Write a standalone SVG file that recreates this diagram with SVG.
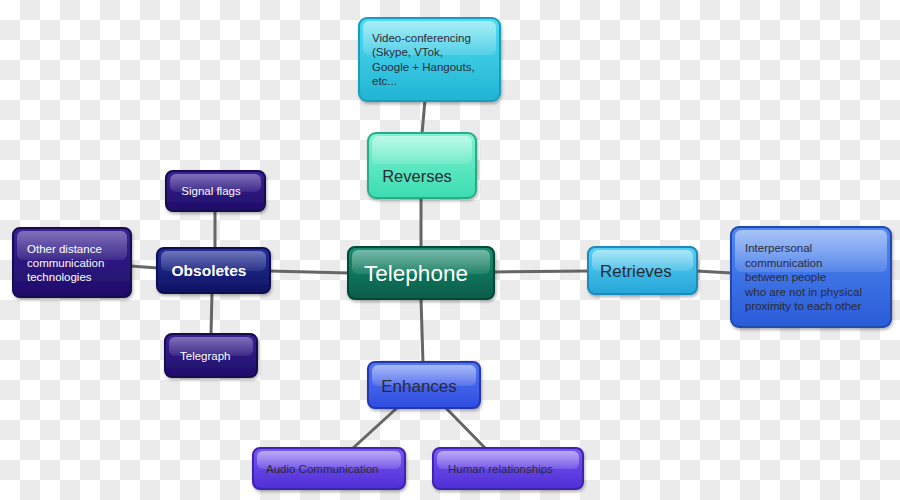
<svg xmlns="http://www.w3.org/2000/svg" width="900" height="500" viewBox="0 0 900 500">
<defs>
<pattern id="chk" width="40" height="40" patternUnits="userSpaceOnUse">
<rect width="40" height="40" fill="#ffffff"/>
<rect x="20" y="0" width="20" height="20" fill="#ebebeb"/>
<rect x="0" y="20" width="20" height="20" fill="#ebebeb"/>
</pattern>
<linearGradient id="gCyan" x1="0" y1="0" x2="0" y2="1"><stop offset="0" stop-color="#52dcf0"/><stop offset="1" stop-color="#20b4d4"/></linearGradient>
<linearGradient id="gMint" x1="0" y1="0" x2="0" y2="1"><stop offset="0" stop-color="#7ef4d2"/><stop offset="1" stop-color="#3cdcb0"/></linearGradient>
<linearGradient id="gGreen" x1="0" y1="0" x2="0" y2="1"><stop offset="0" stop-color="#168e70"/><stop offset="1" stop-color="#0a5c46"/></linearGradient>
<linearGradient id="gNavy" x1="0" y1="0" x2="0" y2="1"><stop offset="0" stop-color="#222e98"/><stop offset="1" stop-color="#0e1462"/></linearGradient>
<linearGradient id="gIndigo" x1="0" y1="0" x2="0" y2="1"><stop offset="0" stop-color="#3a2496"/><stop offset="1" stop-color="#1e0c68"/></linearGradient>
<linearGradient id="gSky" x1="0" y1="0" x2="0" y2="1"><stop offset="0" stop-color="#58d0f4"/><stop offset="1" stop-color="#26a6d8"/></linearGradient>
<linearGradient id="gBlue" x1="0" y1="0" x2="0" y2="1"><stop offset="0" stop-color="#5088f2"/><stop offset="1" stop-color="#2a5cd8"/></linearGradient>
<linearGradient id="gRoyal" x1="0" y1="0" x2="0" y2="1"><stop offset="0" stop-color="#5476f2"/><stop offset="1" stop-color="#2f4ee0"/></linearGradient>
<linearGradient id="gPurple" x1="0" y1="0" x2="0" y2="1"><stop offset="0" stop-color="#7a58f2"/><stop offset="1" stop-color="#4e2ed6"/></linearGradient>
<linearGradient id="gHi" x1="0" y1="0" x2="0" y2="1"><stop offset="0" stop-color="#ffffff" stop-opacity="0.5"/><stop offset="1" stop-color="#ffffff" stop-opacity="0.12"/></linearGradient>
<filter id="sh" x="-10%" y="-10%" width="125%" height="130%"><feDropShadow dx="1" dy="2" stdDeviation="1.5" flood-color="#000" flood-opacity="0.3"/></filter>
</defs>
<style>
.box{stroke-width:2;filter:url(#sh)}
.hi{fill:url(#gHi)}
.t{font-family:"Liberation Sans",Arial,sans-serif}
.dk{fill:#2a2a36}
.wt{fill:#ffffff}
.s11{font-size:11.5px}
.s16{font-size:16.5px}
.conn line{stroke:#666666;stroke-width:3;stroke-linecap:round}
</style>
<rect width="900" height="500" fill="url(#chk)"/>
<g id="connectors" class="conn">
<line x1="425" y1="100" x2="422" y2="134"/>
<line x1="421" y1="197" x2="421" y2="248"/>
<line x1="349" y1="273" x2="269" y2="271"/>
<line x1="493" y1="272" x2="589" y2="271"/>
<line x1="421" y1="298" x2="423" y2="363"/>
<line x1="215" y1="249" x2="215" y2="210"/>
<line x1="212" y1="292" x2="211" y2="335"/>
<line x1="158" y1="268" x2="130" y2="266"/>
<line x1="696" y1="271" x2="732" y2="273"/>
<line x1="398" y1="407" x2="352" y2="449"/>
<line x1="445" y1="407" x2="486" y2="449"/>
</g>
<g id="video">
<rect class="box" x="359" y="18" width="141" height="83" rx="8" fill="url(#gCyan)" stroke="#1a9cbc"/>
<rect class="hi" x="363" y="21" width="133" height="34" rx="6"/>
<text class="t dk s11" x="372" y="42">Video-conferencing</text>
<text class="t dk s11" x="372" y="56">(Skype, VTok,</text>
<text class="t dk s11" x="372" y="71">Google + Hangouts,</text>
<text class="t dk s11" x="372" y="85">etc...</text>
</g>
<g id="reverses">
<rect class="box" x="368" y="133" width="108" height="65" rx="8" fill="url(#gMint)" stroke="#2aaa88"/>
<rect class="hi" x="372" y="136" width="100" height="28" rx="6"/>
<text class="t dk s16" x="417" y="182" text-anchor="middle">Reverses</text>
</g>
<g id="telephone">
<rect class="box" x="348" y="247" width="146" height="52" rx="7" fill="url(#gGreen)" stroke="#064a38"/>
<rect class="hi" x="352" y="250" width="138" height="24" rx="6" opacity="0.8"/>
<text class="t wt" x="416" y="281" font-size="22.5" text-anchor="middle">Telephone</text>
</g>
<g id="obsoletes">
<rect class="box" x="157" y="248" width="113" height="45" rx="7" fill="url(#gNavy)" stroke="#0a0c50"/>
<rect class="hi" x="161" y="251" width="105" height="20" rx="6" opacity="0.7"/>
<text class="t wt" x="209" y="276" font-size="15.5" text-anchor="middle" font-weight="bold">Obsoletes</text>
</g>
<g id="signal">
<rect class="box" x="166" y="171" width="99" height="40" rx="7" fill="url(#gIndigo)" stroke="#150850"/>
<rect class="hi" x="170" y="174" width="91" height="18" rx="6" opacity="0.7"/>
<text class="t wt s11" x="211" y="195" text-anchor="middle">Signal flags</text>
</g>
<g id="other">
<rect class="box" x="13" y="228" width="118" height="69" rx="7" fill="url(#gIndigo)" stroke="#150850"/>
<rect class="hi" x="17" y="231" width="110" height="29" rx="6" opacity="0.7"/>
<text class="t wt s11" x="27" y="253">Other distance</text>
<text class="t wt s11" x="27" y="267">communication</text>
<text class="t wt s11" x="27" y="281">technologies</text>
</g>
<g id="telegraph">
<rect class="box" x="165" y="334" width="92" height="43" rx="7" fill="url(#gIndigo)" stroke="#150850"/>
<rect class="hi" x="169" y="337" width="84" height="19" rx="6" opacity="0.7"/>
<text class="t wt s11" x="180" y="360">Telegraph</text>
</g>
<g id="retrieves">
<rect class="box" x="588" y="247" width="109" height="47" rx="7" fill="url(#gSky)" stroke="#1a8abb"/>
<rect class="hi" x="592" y="250" width="101" height="21" rx="6"/>
<text class="t dk" x="600" y="277" font-size="17">Retrieves</text>
</g>
<g id="interpersonal">
<rect class="box" x="731" y="227" width="160" height="100" rx="8" fill="url(#gBlue)" stroke="#2048b0"/>
<rect class="hi" x="735" y="230" width="152" height="42" rx="6"/>
<text class="t dk s11" x="745" y="252">Interpersonal</text>
<text class="t dk s11" x="745" y="267">communication</text>
<text class="t dk s11" x="745" y="281">between people</text>
<text class="t dk s11" x="745" y="296">who are not in physical</text>
<text class="t dk s11" x="745" y="310">proximity to each other</text>
</g>
<g id="enhances">
<rect class="box" x="368" y="362" width="112" height="46" rx="7" fill="url(#gRoyal)" stroke="#2038b0"/>
<rect class="hi" x="372" y="365" width="104" height="21" rx="6"/>
<text class="t dk" x="419" y="392" font-size="17" text-anchor="middle">Enhances</text>
</g>
<g id="audio">
<rect class="box" x="253" y="448" width="152" height="41" rx="7" fill="url(#gPurple)" stroke="#4020b0"/>
<rect class="hi" x="257" y="451" width="144" height="18" rx="6"/>
<text class="t dk s11" x="266" y="473">Audio Communication</text>
</g>
<g id="human">
<rect class="box" x="433" y="448" width="150" height="41" rx="7" fill="url(#gPurple)" stroke="#4020b0"/>
<rect class="hi" x="437" y="451" width="142" height="18" rx="6"/>
<text class="t dk s11" x="448" y="473">Human relationships</text>
</g>
</svg>
